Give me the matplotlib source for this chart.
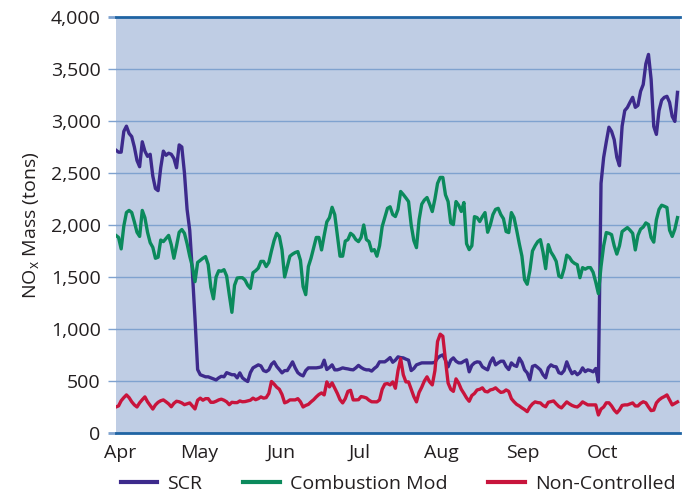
import numpy as np
import matplotlib.pyplot as plt
from matplotlib.ticker import FuncFormatter

plt.rcParams['font.family'] = ['Open Sans', 'DejaVu Sans']
plt.rcParams['mathtext.fontset'] = 'custom'
plt.rcParams['mathtext.rm'] = 'Open Sans'

# daily NOx mass (tons), Apr 1 .. Oct 31
scr = [
    2720, 2700, 2700, 2900, 2950, 2880, 2850, 2750, 2620, 2560,
    2800, 2710, 2660, 2680, 2470, 2350, 2330, 2550, 2710, 2670,
    2690, 2680, 2640, 2550, 2770, 2750, 2500, 2150, 1950, 1550,
    1100, 610, 560, 550, 540, 540, 530, 520, 510, 530,
    545, 540, 580, 570, 560, 560, 530, 578, 530, 510,
    495, 580, 626, 640, 655, 645, 600, 590, 607, 660,
    684, 640, 610, 578, 600, 600, 640, 684, 626, 580,
    560, 549, 600, 626, 626, 626, 626, 630, 636, 700,
    610, 630, 655, 607, 607, 615, 626, 620, 616, 610,
    607, 626, 650, 630, 615, 607, 607, 595, 620, 640,
    684, 684, 684, 703, 725, 680, 700, 732, 725, 722,
    710, 700, 600, 620, 655, 665, 674, 674, 674, 674,
    674, 680, 720, 740, 751, 700, 636, 700, 722, 690,
    674, 674, 690, 703, 588, 650, 674, 684, 680, 636,
    620, 607, 680, 722, 655, 674, 690, 690, 640, 610,
    674, 650, 640, 720, 680, 607, 578, 511, 640, 650,
    630, 607, 560, 530, 626, 655, 640, 636, 580, 570,
    600, 684, 620, 570, 590, 560, 580, 626, 590, 607,
    600, 588, 620, 491, 2400, 2650, 2800, 2940, 2900, 2820,
    2650, 2570, 2950, 3100, 3130, 3180, 3227, 3131, 3150, 3285,
    3350, 3550, 3640, 3400, 2948, 2871, 3100, 3200, 3227, 3237,
    3179, 3044, 2996, 3275,
]

comb_mod = [
    1900, 1880, 1770, 1990, 2120, 2140, 2120, 2030, 1930, 1890,
    2140, 2070, 1930, 1830, 1785, 1680, 1690, 1855, 1840, 1870,
    1900, 1810, 1680, 1800, 1930, 1956, 1920, 1820, 1700, 1600,
    1455, 1640, 1660, 1680, 1696, 1620, 1400, 1290, 1500, 1560,
    1555, 1570, 1510, 1330, 1160, 1420, 1490, 1493, 1493, 1470,
    1420, 1390, 1541, 1560, 1585, 1650, 1650, 1600, 1640, 1750,
    1850, 1920, 1890, 1760, 1500, 1600, 1700, 1720, 1735, 1744,
    1660, 1407, 1330, 1600, 1680, 1780, 1880, 1880, 1760, 1900,
    2030, 2070, 2170, 2100, 1900, 1700, 1700, 1845, 1859, 1920,
    1900, 1860, 1840, 1880, 2000, 1860, 1840, 1750, 1763, 1700,
    1800, 1985, 2071, 2160, 2175, 2100, 2081, 2150, 2322, 2293,
    2260, 2225, 2000, 1850, 1782, 2050, 2200, 2240, 2264, 2200,
    2129, 2250, 2400, 2457, 2457, 2290, 2225, 2020, 2004, 2225,
    2190, 2130, 2216, 1820, 1763, 1800, 2080, 2071, 2033, 2080,
    2119, 1930, 2000, 2100, 2150, 2160, 2100, 2060, 1937, 1927,
    2119, 2071, 1950, 1820, 1700, 1474, 1430, 1560, 1750, 1800,
    1840, 1859, 1740, 1580, 1811, 1740, 1700, 1650, 1510, 1495,
    1580, 1710, 1690, 1650, 1630, 1618, 1493, 1590, 1575, 1590,
    1590, 1545, 1450, 1340, 1600, 1800, 1927, 1920, 1907, 1800,
    1720, 1800, 1937, 1956, 1975, 1950, 1920, 1760, 1900, 1960,
    1980, 2020, 2004, 1880, 1835, 2050, 2150, 2190, 2180, 2168,
    1950, 1890, 1960, 2071,
]

non_ctrl = [
    250, 260, 310, 340, 366, 340, 300, 270, 250, 290,
    320, 347, 300, 265, 230, 270, 295, 310, 318, 300,
    280, 252, 285, 305, 300, 289, 272, 280, 289, 260,
    231, 315, 335, 315, 330, 330, 295, 295, 305, 318,
    325, 315, 300, 272, 295, 292, 292, 308, 300, 302,
    308, 315, 335, 320, 330, 347, 335, 340, 380, 495,
    470, 440, 420, 370, 290, 300, 318, 318, 318, 330,
    300, 250, 265, 275, 299, 320, 347, 370, 385, 366,
    491, 443, 482, 430, 380, 320, 289, 330, 400, 410,
    318, 318, 320, 350, 345, 337, 315, 300, 299, 299,
    318, 420, 470, 475, 462, 491, 430, 600, 715, 560,
    491, 491, 420, 350, 299, 390, 440, 500, 540, 491,
    462, 600, 880, 950, 930, 700, 480, 420, 400, 520,
    480, 420, 380, 337, 305, 360, 380, 414, 420, 434,
    400, 395, 414, 420, 434, 410, 390, 395, 414, 400,
    330, 300, 275, 260, 241, 225, 205, 250, 280, 299,
    292, 289, 265, 252, 295, 302, 308, 280, 255, 241,
    270, 299, 280, 265, 255, 250, 270, 299, 285, 270,
    270, 270, 270, 173, 230, 250, 290, 290, 260, 220,
    193, 222, 265, 270, 270, 280, 289, 260, 260, 285,
    300, 290, 250, 215, 220, 289, 318, 337, 350, 366,
    318, 270, 285, 299,
]

months = ['Apr', 'May', 'Jun', 'Jul', 'Aug', 'Sep', 'Oct']
month_start = [0, 30, 61, 91, 122, 153, 183]  # day index of the 1st of each month

days = np.arange(len(scr))

fig = plt.figure(figsize=(6.94, 4.95), dpi=100)
ax = fig.add_axes([0.167, 0.1253, 0.813, 0.8404])
ax.set_facecolor('#BFCDE4')

ax.plot(days, scr, color='#3D2A8C', lw=2.4, label='SCR', zorder=3)
ax.plot(days, comb_mod, color='#0B8A5C', lw=2.4, label='Combustion Mod', zorder=3)
ax.plot(days, non_ctrl, color='#C8143C', lw=2.4, label='Non-Controlled', zorder=3)

ax.set_xlim(0, 214)
ax.set_ylim(0, 4000)
ax.set_yticks(np.arange(0, 4001, 500))
ax.yaxis.set_major_formatter(FuncFormatter(lambda v, p: f'{int(v):,}'))
ax.grid(axis='y', color='#7FA2CF', lw=1)
ax.set_axisbelow(True)

ax.set_xticks([d + 1.5 for d in month_start])
ax.set_xticklabels(months)
ax.tick_params(axis='x', length=0, pad=8, labelsize=14, colors='#231F20')
ax.tick_params(axis='y', length=6, width=1, color='#7FA2CF', pad=5,
               labelsize=14, labelcolor='#231F20')
yt = ax.yaxis.get_major_ticks()
for t in (yt[0], yt[-1]):
    t.tick1line.set_color('#1F64A3')
    t.tick1line.set_markeredgewidth(2)

for s in ['left', 'right']:
    ax.spines[s].set_visible(False)
for s in ['top', 'bottom']:
    ax.spines[s].set_color('#1F64A3')
    ax.spines[s].set_linewidth(2)

ax.set_ylabel('NO$_\\mathrm{x}$ Mass (tons)', fontsize=14, color='#231F20', labelpad=6)

leg = ax.legend(loc='center', bbox_to_anchor=(0.5, -0.122), ncol=3,
                frameon=False, fontsize=14, handlelength=1.9, columnspacing=2.1,
                handletextpad=0.5, borderpad=0)
for line in leg.get_lines():
    line.set_linewidth(3)
for t in leg.get_texts():
    t.set_color('#231F20')

fig.savefig('out.png', dpi=100)
